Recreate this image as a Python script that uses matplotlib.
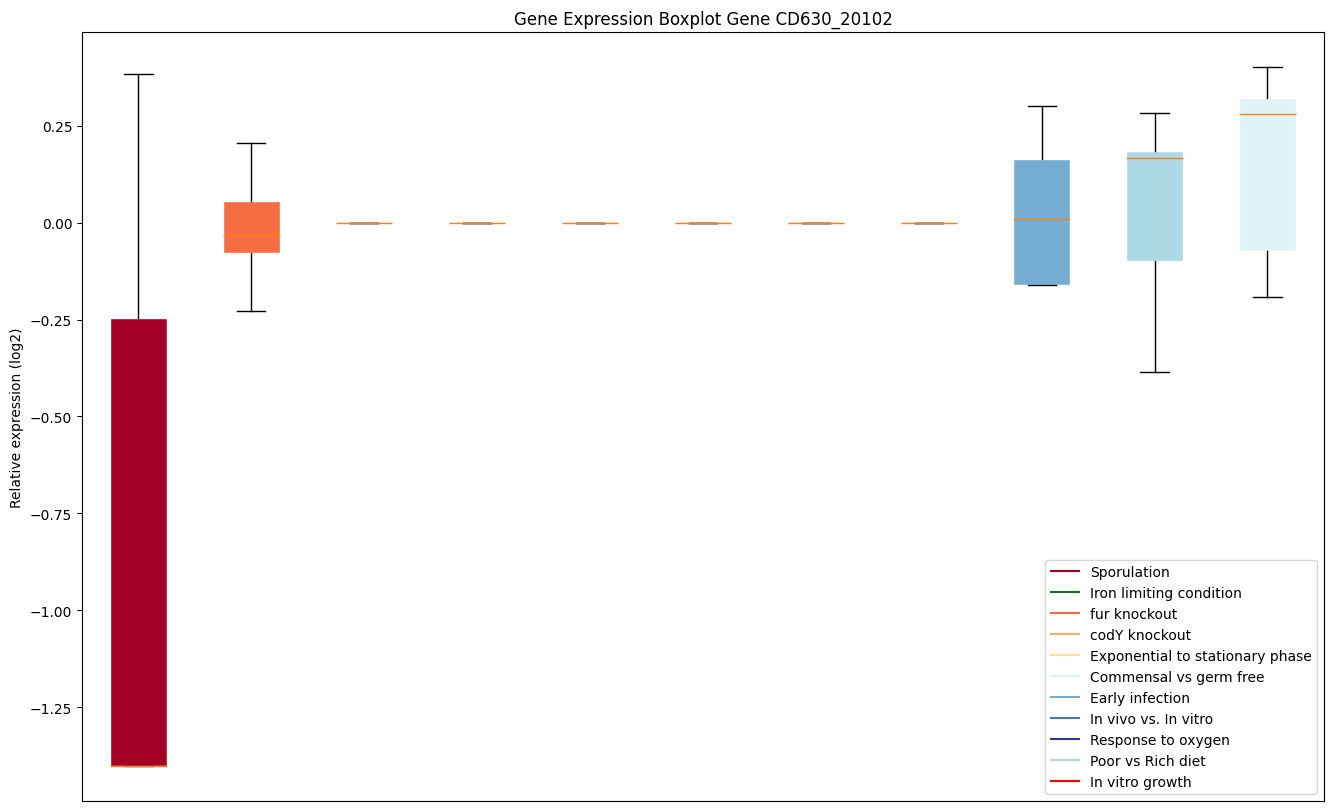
import matplotlib
matplotlib.use("Agg")
import matplotlib.pyplot as plt
from matplotlib.lines import Line2D

# box statistics, one per condition
box_colors = ['#a50026', '#f46d43', '#fdae61', '#1a7030', '#fee090', '#313695',
              '#4575b4', 'red', '#74add1', '#add8e6', '#e0f3f8']
whislo = [-1.402, -0.229, 0, 0, 0, 0, 0, 0, -0.162, -0.384, -0.191]
q1 = [-1.402, -0.077, 0, 0, 0, 0, 0, 0, -0.162, -0.098, -0.072]
med = [-1.402, -0.031, 0, 0, 0, 0, 0, 0, 0.010, 0.168, 0.281]
q3 = [-0.247, 0.057, 0, 0, 0, 0, 0, 0, 0.165, 0.186, 0.322]
whishi = [0.384, 0.206, 0, 0, 0, 0, 0, 0, 0.302, 0.284, 0.402]

legend_labels = ['Sporulation', 'Iron limiting condition', 'fur knockout', 'codY knockout',
                 'Exponential to stationary phase', 'Commensal vs germ free', 'Early infection',
                 'In vivo vs. In vitro', 'Response to oxygen', 'Poor vs Rich diet',
                 'In vitro growth']
legend_colors = ['#a50026', '#1a6b2a', '#f46d43', '#fdae61', '#fee090', '#e0f3f8',
                 '#74add1', '#4575b4', '#313695', '#add8e6', 'red']

stats = []
for i in range(len(med)):
    stats.append(dict(whislo=whislo[i], q1=q1[i], med=med[i], q3=q3[i],
                      whishi=whishi[i], fliers=[]))

fig = plt.figure(figsize=(13.31, 8.12), dpi=100)
ax = fig.add_axes([0.0616, 0.0123, 0.9331, 0.9471])

bp = ax.bxp(stats, patch_artist=True, showfliers=False)
for patch, c in zip(bp['boxes'], box_colors):
    patch.set_facecolor(c)
    patch.set_edgecolor('white')
    patch.set_linewidth(1)
for m in bp['medians']:
    m.set_color('#ff7f0e')

ax.set_xticks([])
ax.set_ylabel('Relative expression (log2)')
ax.set_title('Gene Expression Boxplot Gene CD630_20102')

handles = [Line2D([0], [0], color=c) for c in legend_colors]
ax.legend(handles, legend_labels, loc='lower right')

fig.savefig('out.png', dpi=100)
